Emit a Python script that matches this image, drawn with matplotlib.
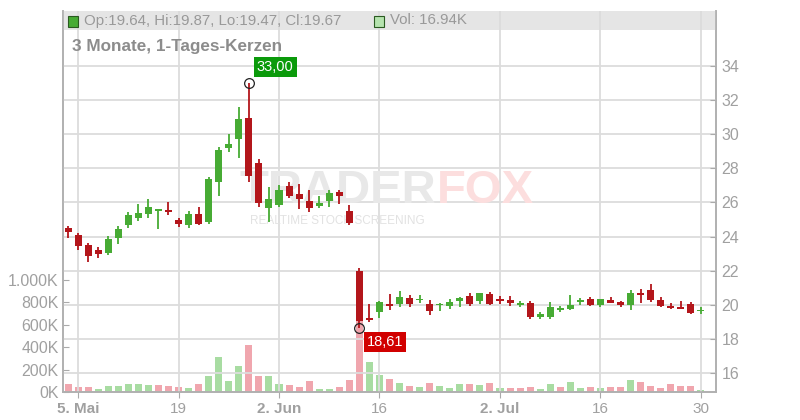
import pandas as pd
import matplotlib.pyplot as plt
from matplotlib.patches import Rectangle
from matplotlib.ticker import FuncFormatter

plt.rcParams['font.family'] = ['Liberation Sans', 'DejaVu Sans']

# daily candles, 2 May - 30 Jul 2025 (trading days)
dates = pd.bdate_range('2025-05-02', '2025-07-30')

opens = [24.50, 24.09, 23.50, 23.21, 23.03, 23.93, 24.68, 25.09, 25.32, 25.55,
         25.55, 24.97, 24.68, 25.32, 24.87, 27.21, 29.21, 29.72, 30.95, 28.33,
         25.69, 25.85, 26.96, 26.49, 26.08, 25.79, 26.08, 26.61, 25.50, 21.98,
         19.22, 19.59, 20.06, 20.06, 20.40, 20.28, 20.06, 20.00, 19.95, 20.24,
         20.51, 20.24, 20.63, 20.36, 20.28, 20.00, 20.10, 19.26, 19.26, 19.71,
         19.77, 20.18, 20.34, 19.99, 20.28, 20.18, 19.97, 20.65, 20.87, 20.28,
         19.95, 19.89, 20.06, 19.64]
highs = [24.62, 24.21, 23.64, 23.39, 24.03, 24.62, 25.44, 25.91, 26.20, 25.61,
         26.02, 25.09, 25.50, 25.75, 27.51, 29.23, 30.01, 31.61, 33.00, 28.54,
         26.88, 27.02, 27.21, 27.08, 26.73, 26.38, 26.71, 26.73, 25.85, 22.14,
         20.04, 20.20, 20.63, 20.81, 20.55, 20.59, 20.26, 20.10, 20.34, 20.45,
         20.69, 20.69, 20.75, 20.51, 20.51, 20.24, 20.22, 19.59, 20.16, 19.95,
         20.57, 20.40, 20.45, 20.34, 20.45, 20.24, 20.87, 20.92, 21.22, 20.47,
         20.10, 20.22, 20.16, 19.87]
lows = [23.93, 23.21, 22.52, 22.76, 22.92, 23.58, 24.50, 24.91, 25.09, 24.44,
        25.26, 24.56, 24.50, 24.68, 24.73, 26.38, 28.97, 28.62, 27.21, 25.75,
        24.87, 25.75, 26.24, 25.61, 25.42, 25.69, 25.73, 25.91, 24.68, 18.61,
        19.01, 19.24, 19.69, 19.87, 19.89, 20.09, 19.42, 19.65, 19.77, 19.89,
        19.95, 20.06, 20.00, 20.06, 19.95, 19.89, 19.17, 19.17, 19.17, 19.59,
        19.71, 20.00, 19.95, 19.89, 20.09, 19.89, 19.69, 20.12, 20.18, 19.89,
        19.77, 19.77, 19.46, 19.47]
closes = [24.28, 23.46, 22.88, 22.99, 23.85, 24.44, 25.26, 25.38, 25.73, 25.58,
          25.46, 24.73, 25.32, 24.73, 27.37, 29.07, 29.42, 30.89, 27.55, 25.98,
          26.20, 26.73, 26.38, 26.20, 25.69, 25.96, 26.55, 26.38, 24.81, 19.05,
          19.11, 20.16, 19.95, 20.45, 20.07, 20.34, 19.65, 20.06, 20.16, 20.40,
          20.06, 20.69, 20.06, 20.24, 20.13, 20.11, 19.26, 19.44, 19.84, 19.82,
          20.00, 20.30, 19.99, 20.34, 20.12, 20.00, 20.69, 20.61, 20.28, 19.95,
          19.83, 19.77, 19.50, 19.67]
# volume in thousands
volumes = [69, 42, 42, 24, 51, 51, 69, 69, 60, 60,
           51, 42, 33, 69, 140, 310, 96, 230, 417, 140,
           140, 69, 60, 42, 96, 24, 24, 42, 105, 750,
           265, 149, 113, 78, 51, 42, 78, 51, 33, 69,
           69, 60, 78, 33, 33, 33, 42, 24, 69, 42,
           87, 33, 42, 33, 42, 42, 105, 87, 51, 33,
           69, 51, 51, 16.94]

tick_dates = ['2025-05-05', '2025-05-19', '2025-06-02', '2025-06-16',
              '2025-07-02', '2025-07-16', '2025-07-30']
tick_labels = ['5. Mai', '19', '2. Jun', '16', '2. Jul', '16', '30']
month_start = [True, False, True, False, True, False, False]

GREEN = '#47ab34'
RED = '#b3161b'
VOL_UP = '#a8dca2'
VOL_DOWN = '#f0a6ae'
GRID = '#dcdcdc'
LABEL = '#a0a0a0'
W, H = 800, 420

fig = plt.figure(figsize=(8, 4.2), dpi=100)
ax = fig.add_axes([63 / W, 1 - 392 / H, (716 - 63) / W, (392 - 11) / H])
axv = ax.twinx()
ax.set_zorder(axv.get_zorder() + 1)
ax.patch.set_visible(False)

x = list(range(len(dates)))

# volume bars, coloured by close vs previous close
vol_colors = []
prev = opens[0]
for c in closes:
    vol_colors.append(VOL_UP if c >= prev else VOL_DOWN)
    prev = c
axv.bar(x, volumes, width=0.7, color=vol_colors, zorder=2)

# candles
for i in x:
    o, h, l, c = opens[i], highs[i], lows[i], closes[i]
    col = GREEN if c >= o else RED
    ax.vlines(i, l, h, color=col, lw=1.3, zorder=3)
    body = abs(c - o)
    if body < 0.08:
        ax.bar(i, 0.08, bottom=(o + c) / 2 - 0.04, width=0.7, color=col, zorder=3)
    else:
        ax.bar(i, body, bottom=min(o, c), width=0.7, color=col, zorder=3)

# max / min markers
i_hi = highs.index(max(highs))
i_lo = lows.index(min(lows))
ax.plot(i_hi, highs[i_hi], 'o', mfc='none', mec='#222222', ms=7, mew=0.9, zorder=5)
ax.plot(i_lo, lows[i_lo], 'o', mfc='none', mec='#222222', ms=7, mew=0.9, zorder=5)
ax.annotate(f'{highs[i_hi]:.2f}'.replace('.', ','), xy=(i_hi, highs[i_hi]),
            xytext=(19, 11.5), textcoords='offset points', ha='center', va='center',
            color='white', fontsize=10.5,
            bbox=dict(boxstyle='square,pad=0.2', fc='#0b9a0b', ec='none'), zorder=6)
ax.annotate(f'{lows[i_lo]:.2f}'.replace('.', ','), xy=(i_lo, lows[i_lo]),
            xytext=(18.5, -10), textcoords='offset points', ha='center', va='center',
            color='white', fontsize=10.5,
            bbox=dict(boxstyle='square,pad=0.2', fc='#d10000', ec='none'), zorder=6)

# axes, ticks, grid
ax.set_xlim(-0.5, 64.5)
ax.set_ylim(14.886, 37.22)
axv.set_ylim(0, 3400)

ax.set_xticks([dates.get_loc(pd.Timestamp(d)) for d in tick_dates])
ax.set_xticklabels(tick_labels)
for lab, bold in zip(ax.get_xticklabels(), month_start):
    if bold:
        lab.set_fontweight('bold')
ax.set_yticks(range(16, 35, 2))
ax.yaxis.tick_right()
axv.yaxis.tick_left()
axv.set_yticks([0, 200, 400, 600, 800, 1000])
axv.yaxis.set_major_formatter(FuncFormatter(lambda v, p: f'{int(v):,}K'.replace(',', '.')))

ax.tick_params(axis='x', direction='out', length=4, color='#aaaaaa',
               labelcolor=LABEL, labelsize=11, pad=3)
ax.tick_params(axis='y', direction='in', length=4, color='#aaaaaa',
               labelcolor=LABEL, labelsize=11.5, pad=4)
axv.tick_params(axis='y', direction='in', length=4, color='#aaaaaa',
                labelcolor=LABEL, labelsize=11.5, pad=3)

ax.set_axisbelow(True)
ax.grid(True, color=GRID, lw=1.3)

for a in (ax, axv):
    a.spines['top'].set_visible(False)
    for s in ('left', 'right', 'bottom'):
        a.spines[s].set_color('#b0b0b0')
        a.spines[s].set_linewidth(1.2)

# header band
ax.add_patch(Rectangle((63 / W, 1 - 30 / H), (716 - 63) / W, 19 / H,
                       transform=fig.transFigure, fc='#e5e5e5', ec='none', zorder=0.2))
fig.add_artist(Rectangle((68 / W, 1 - 26.5 / H), 10 / W, 10 / H, transform=fig.transFigure,
                         fc=GREEN, ec='#2a5a20', lw=0.8, zorder=5))
fig.text(84 / W, 1 - 20.5 / H, 'Op:19.64, Hi:19.87, Lo:19.47, Cl:19.67',
         fontsize=10.8, color='#999999', va='center')
fig.add_artist(Rectangle((374 / W, 1 - 26.5 / H), 10 / W, 10 / H, transform=fig.transFigure,
                         fc='#b5e3ae', ec='#2a5a20', lw=0.8, zorder=5))
fig.text(390 / W, 1 - 20.5 / H, 'Vol: 16.94K', fontsize=10.8, color='#999999', va='center')

fig.text(72 / W, 1 - 47 / H, '3 Monate, 1-Tages-Kerzen', fontsize=12.3,
         weight='bold', color='#8c8c8c', va='center')

# watermark
ax.text(240 / W, 1 - 203 / H, 'TRADER', transform=fig.transFigure, fontsize=34,
        weight='bold', color='#e8e8e8', va='baseline', ha='left', zorder=1)
ax.text(437 / W, 1 - 203 / H, 'FOX', transform=fig.transFigure, fontsize=34,
        weight='bold', color='#fcdede', va='baseline', ha='left', zorder=1)
ax.text(250 / W, 1 - 221 / H, 'REALTIME STOCK SCREENING', transform=fig.transFigure,
        fontsize=8.5, color='#e2e2e2', va='center', ha='left', zorder=1)

fig.savefig('out.png', dpi=100)
